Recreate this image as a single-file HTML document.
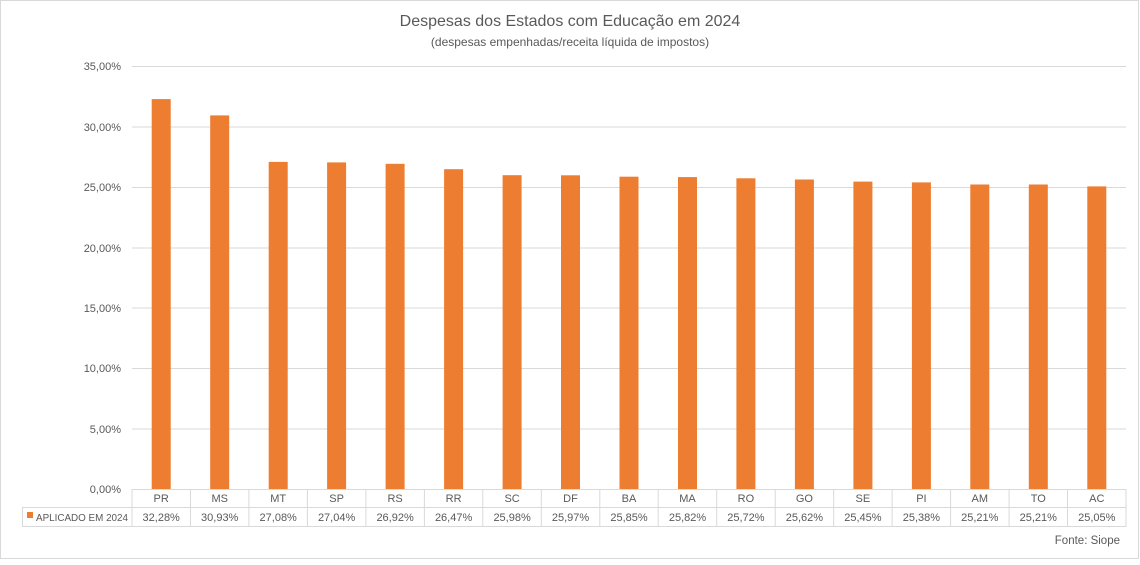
<!DOCTYPE html><html><head><meta charset="utf-8"><style>body{margin:0;background:#fff}</style></head><body>
<svg width="1140" height="560" xmlns="http://www.w3.org/2000/svg" font-family="Liberation Sans, sans-serif">
<rect x="0.5" y="0.5" width="1138" height="558" fill="#fff" stroke="#d9d9d9"/>
<text x="570" y="26" text-anchor="middle" font-size="16" fill="#595959">Despesas dos Estados com Educação em 2024</text>
<text x="570" y="46" text-anchor="middle" font-size="12" fill="#595959">(despesas empenhadas/receita líquida de impostos)</text>
<g stroke="#d9d9d9" stroke-width="1">
<line x1="132" x2="1126" y1="66.5" y2="66.5"/><line x1="132" x2="1126" y1="127" y2="127"/><line x1="132" x2="1126" y1="187.5" y2="187.5"/><line x1="132" x2="1126" y1="248" y2="248"/><line x1="132" x2="1126" y1="308" y2="308"/><line x1="132" x2="1126" y1="368.5" y2="368.5"/><line x1="132" x2="1126" y1="429" y2="429"/>
</g>
<g font-size="11" fill="#595959" text-anchor="end">
<text x="121" y="70">35,00%</text><text x="121" y="131">30,00%</text><text x="121" y="191">25,00%</text><text x="121" y="252">20,00%</text><text x="121" y="312">15,00%</text><text x="121" y="372">10,00%</text><text x="121" y="433">5,00%</text><text x="121" y="493">0,00%</text>
</g>
<g fill="#ED7D31">
<rect x="151.7" y="99.1" width="19" height="389.9"/>
<rect x="210.2" y="115.4" width="19" height="373.6"/>
<rect x="268.7" y="161.9" width="19" height="327.1"/>
<rect x="327.1" y="162.4" width="19" height="326.6"/>
<rect x="385.6" y="163.8" width="19" height="325.2"/>
<rect x="444.1" y="169.2" width="19" height="319.8"/>
<rect x="502.6" y="175.2" width="19" height="313.8"/>
<rect x="561.0" y="175.3" width="19" height="313.7"/>
<rect x="619.5" y="176.7" width="19" height="312.3"/>
<rect x="678.0" y="177.1" width="19" height="311.9"/>
<rect x="736.4" y="178.3" width="19" height="310.7"/>
<rect x="794.9" y="179.5" width="19" height="309.5"/>
<rect x="853.4" y="181.6" width="19" height="307.4"/>
<rect x="911.9" y="182.4" width="19" height="306.6"/>
<rect x="970.3" y="184.5" width="19" height="304.5"/>
<rect x="1028.8" y="184.5" width="19" height="304.5"/>
<rect x="1087.3" y="186.4" width="19" height="302.6"/>
</g>
<g stroke="#d9d9d9" fill="none">
<line x1="132" x2="1126" y1="489.5" y2="489.5"/>
<line x1="22" x2="1126" y1="507.5" y2="507.5"/>
<line x1="22" x2="1126" y1="526.5" y2="526.5"/>
<line x1="22.5" x2="22.5" y1="507" y2="527"/>
<path d="M132 489V527M190.5 489V527M248.9 489V527M307.4 489V527M365.9 489V527M424.4 489V527M482.8 489V527M541.3 489V527M599.8 489V527M658.2 489V527M716.7 489V527M775.2 489V527M833.7 489V527M892.1 489V527M950.6 489V527M1009.1 489V527M1067.5 489V527M1126 489V527"/>
</g>
<g font-size="11" fill="#595959" text-anchor="middle">
<text x="161.2" y="502">PR</text><text x="219.7" y="502">MS</text><text x="278.2" y="502">MT</text><text x="336.6" y="502">SP</text><text x="395.1" y="502">RS</text><text x="453.6" y="502">RR</text><text x="512.1" y="502">SC</text><text x="570.5" y="502">DF</text><text x="629" y="502">BA</text><text x="687.5" y="502">MA</text><text x="745.9" y="502">RO</text><text x="804.4" y="502">GO</text><text x="862.9" y="502">SE</text><text x="921.4" y="502">PI</text><text x="979.8" y="502">AM</text><text x="1038.3" y="502">TO</text><text x="1096.8" y="502">AC</text>
<text x="161.2" y="521">32,28%</text><text x="219.7" y="521">30,93%</text><text x="278.2" y="521">27,08%</text><text x="336.6" y="521">27,04%</text><text x="395.1" y="521">26,92%</text><text x="453.6" y="521">26,47%</text><text x="512.1" y="521">25,98%</text><text x="570.5" y="521">25,97%</text><text x="629" y="521">25,85%</text><text x="687.5" y="521">25,82%</text><text x="745.9" y="521">25,72%</text><text x="804.4" y="521">25,62%</text><text x="862.9" y="521">25,45%</text><text x="921.4" y="521">25,38%</text><text x="979.8" y="521">25,21%</text><text x="1038.3" y="521">25,21%</text><text x="1096.8" y="521">25,05%</text>
</g>
<rect x="27" y="512" width="6" height="6" fill="#ED7D31"/>
<text x="36" y="521" font-size="10.5" fill="#595959" textLength="92" lengthAdjust="spacingAndGlyphs">APLICADO EM 2024</text>
<text x="1120" y="544" text-anchor="end" font-size="11.5" fill="#595959">Fonte: Siope</text>
</svg></body></html>
